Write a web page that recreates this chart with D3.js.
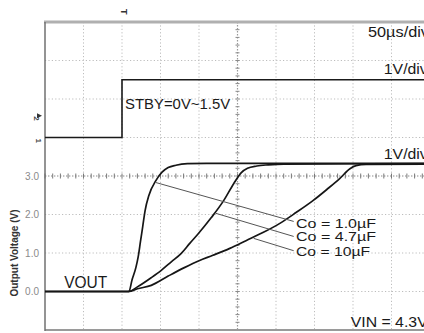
<!DOCTYPE html>
<html>
<head>
<meta charset="utf-8">
<script src="https://cdn.jsdelivr.net/npm/d3@7"></script>
<style>
  html, body { margin: 0; padding: 0; background: #fff; }
  svg { display: block; font-family: "Liberation Sans", Arial, sans-serif; }
</style>
</head>
<body>
<svg id="chart" width="424" height="333"></svg>
<script>
// time in µs (50µs/div), voltages in V (1V/div)
const TIME_TICKS = [-100, -50, 0, 50, 100, 150, 200, 250, 300, 350, 400];
const VOLT_TICKS = [-1, 0, 1, 2, 3, 4, 5, 6, 7];
const Y_LABELS = [0, 1, 2, 3];

const stbyTrace = [[-100, 0], [0, 0], [0, 1.5], [400, 1.5]];

const vout1u0 = [[-100, 0], [9, 0], [13, 0.3], [18, 0.62], [21, 0.9], [24, 1.3], [27, 1.7],
  [30, 2.1], [35, 2.5], [44, 2.88], [52, 3.1], [60, 3.22], [70, 3.28], [85, 3.32], [110, 3.33], [400, 3.33]];
const vout4u7 = [[-100, 0], [9, 0], [20, 0.12], [38, 0.36], [51, 0.55], [64, 0.77], [77, 0.99],
  [88, 1.25], [99, 1.5], [116, 1.92], [132, 2.36], [145, 2.8], [155, 3.09], [163, 3.2],
  [175, 3.26], [190, 3.29], [210, 3.31], [400, 3.32]];
const vout10u = [[-100, 0], [9, 0], [20, 0.07], [38, 0.16], [60, 0.4], [81, 0.62], [100, 0.8],
  [118, 0.94], [140, 1.12], [161, 1.32], [183, 1.53], [205, 1.77], [226, 2.05], [248, 2.36],
  [266, 2.65], [283, 2.94], [296, 3.19], [304, 3.27], [317, 3.3], [400, 3.31]];

const capLabels = ["Co = 1.0µF", "Co = 4.7µF", "Co = 10µF"];
const capLeaderFrom = [[44, 2.83], [122, 2.03], [171, 1.38]];
const capLeaderTo = [[223, 1.82], [223, 1.43], [223, 1.06]];
const capLabelAt = [[226, 1.66], [226, 1.3], [226, 0.935]];
const capLabelWidth = [80, 80, 74];

const W = 424;
const PLOT = { left: 45, right: 430, top: 22, bottom: 330 };

const svg = d3.select("#chart");

const x = d3.scaleLinear().domain([-100, 400]).range([PLOT.left, PLOT.right]);
const yOut = d3.scaleLinear().domain([-1, 7]).range([PLOT.bottom, PLOT.top]);
const yStby = d3.scaleLinear().domain([-5, 3]).range([PLOT.bottom, PLOT.top]);

// grid
const grid = svg.append("g");
grid.selectAll(".vg")
  .data(TIME_TICKS.filter((t) => t > -100 && t !== 150))
  .join("line")
  .attr("x1", (t) => x(t)).attr("x2", (t) => x(t))
  .attr("y1", PLOT.top).attr("y2", PLOT.bottom)
  .attr("stroke", "#bdbdbd").attr("stroke-width", 1).attr("stroke-dasharray", "1.2 2.2");

grid.selectAll(".hg")
  .data(VOLT_TICKS.filter((v) => v > -1 && v < 7 && v !== 3))
  .join("line")
  .attr("x1", PLOT.left).attr("x2", PLOT.right)
  .attr("y1", (v) => yOut(v)).attr("y2", (v) => yOut(v))
  .attr("stroke", "#bdbdbd").attr("stroke-width", 1).attr("stroke-dasharray", "1.2 2.2");

// centre lines with minor ticks
const cx = x(150);
const cy = yOut(3);
grid.append("line")
  .attr("x1", cx).attr("x2", cx).attr("y1", PLOT.top).attr("y2", PLOT.bottom)
  .attr("stroke", "#9a9a9a").attr("stroke-width", 1.2).attr("stroke-dasharray", "1.4 1.6");
grid.append("line")
  .attr("x1", PLOT.left).attr("x2", PLOT.right).attr("y1", cy).attr("y2", cy)
  .attr("stroke", "#8a8a8a").attr("stroke-width", 1.2).attr("stroke-dasharray", "1.4 1.6");

const minorV = d3.range(-1, 7.001, 0.2);
grid.selectAll(".mv")
  .data(minorV)
  .join("line")
  .attr("x1", cx - 2).attr("x2", cx + 2)
  .attr("y1", (v) => yOut(v)).attr("y2", (v) => yOut(v))
  .attr("stroke", "#8a8a8a").attr("stroke-width", 1);
const minorT = d3.range(-100, 400.001, 10);
grid.selectAll(".mt")
  .data(minorT)
  .join("line")
  .attr("x1", (t) => x(t)).attr("x2", (t) => x(t))
  .attr("y1", cy - 2.5).attr("y2", cy + 2.5)
  .attr("stroke", "#7a7a7a").attr("stroke-width", 1);

// frame
svg.append("line")
  .attr("x1", PLOT.left - 1).attr("x2", W).attr("y1", PLOT.top).attr("y2", PLOT.top)
  .attr("stroke", "#b0b0b0").attr("stroke-width", 3);
svg.append("line")
  .attr("x1", PLOT.left).attr("x2", W).attr("y1", PLOT.bottom).attr("y2", PLOT.bottom)
  .attr("stroke", "#9a9a9a").attr("stroke-width", 2);
svg.append("line")
  .attr("x1", PLOT.left).attr("x2", PLOT.left).attr("y1", PLOT.top).attr("y2", PLOT.bottom + 1)
  .attr("stroke", "#707070").attr("stroke-width", 1.5);

// y axis labels
const axis = svg.append("g")
  .attr("transform", `translate(${PLOT.left - 3},0)`)
  .call(d3.axisLeft(yOut).tickValues(Y_LABELS).tickSize(0).tickFormat(d3.format(".1f")));
axis.select(".domain").remove();
axis.selectAll("text")
  .attr("font-family", "\"Liberation Sans\", Arial, sans-serif")
  .attr("font-size", 10)
  .attr("fill", "#8a8a8a");

svg.append("text")
  .attr("transform", `translate(18,${yOut(1)}) rotate(-90)`)
  .attr("text-anchor", "middle")
  .attr("font-size", 10)
  .attr("font-weight", "bold")
  .attr("fill", "#333")
  .text("Output Voltage (V)");

// traces
const lineStby = d3.line().x((d) => x(d[0])).y((d) => yStby(d[1]));
svg.append("path")
  .attr("d", lineStby(stbyTrace))
  .attr("fill", "none").attr("stroke", "#1a1a1a").attr("stroke-width", 1.6);

const lineOut = d3.line().x((d) => x(d[0])).y((d) => yOut(d[1])).curve(d3.curveMonotoneX);
[vout10u, vout4u7, vout1u0].forEach((trace) => {
  svg.append("path")
    .attr("d", lineOut(trace))
    .attr("fill", "none").attr("stroke", "#161616").attr("stroke-width", 1.7);
});

// leaders and labels for the capacitors
capLabels.forEach((label, i) => {
  svg.append("line")
    .attr("x1", x(capLeaderFrom[i][0])).attr("y1", yOut(capLeaderFrom[i][1]))
    .attr("x2", x(capLeaderTo[i][0])).attr("y2", yOut(capLeaderTo[i][1]))
    .attr("stroke", "#555").attr("stroke-width", 1);
  svg.append("text")
    .attr("x", x(capLabelAt[i][0])).attr("y", yOut(capLabelAt[i][1]))
    .attr("font-size", 12.5).attr("fill", "#1a1a1a")
    .attr("textLength", capLabelWidth[i]).attr("lengthAdjust", "spacingAndGlyphs")
    .text(label);
});

// scope annotations
const addText = (t, v, label, size, width) => {
  const el = svg.append("text")
    .attr("x", x(t)).attr("y", yOut(v))
    .attr("font-size", size).attr("fill", "#1a1a1a")
    .text(label);
  if (width) {
    el.attr("textLength", width).attr("lengthAdjust", "spacingAndGlyphs");
  }
  return el;
};

addText(319.5, 6.6, "50µs/div", 14, 61);
addText(340, 5.64, "1V/div", 14, 44);
addText(340, 3.43, "1V/div", 14, 44);
addText(4, 4.75, "STBY=0V~1.5V", 14, 105);
addText(-75, 0.1, "VOUT", 16, 43);
addText(297, -0.91, "VIN = 4.3V", 14, 77);

// channel / trigger markers
svg.append("text")
  .attr("transform", `translate(${x(0) - 1},${PLOT.top - 13}) rotate(90)`)
  .attr("font-size", 9).attr("font-weight", "bold").attr("fill", "#333")
  .text("T");
svg.append("text")
  .attr("transform", `translate(34,${yStby(0.55)}) rotate(90)`)
  .attr("font-size", 8).attr("font-weight", "bold").attr("fill", "#444")
  .text("2");
svg.append("path")
  .attr("d", `M37,${yStby(0.55) - 3} l5,2.5 l-5,2.5 z`)
  .attr("fill", "#333");
svg.append("text")
  .attr("transform", `translate(36,${yStby(0) + 1}) rotate(90)`)
  .attr("font-size", 8).attr("font-weight", "bold").attr("fill", "#444")
  .text("1");
</script>
</body>
</html>
